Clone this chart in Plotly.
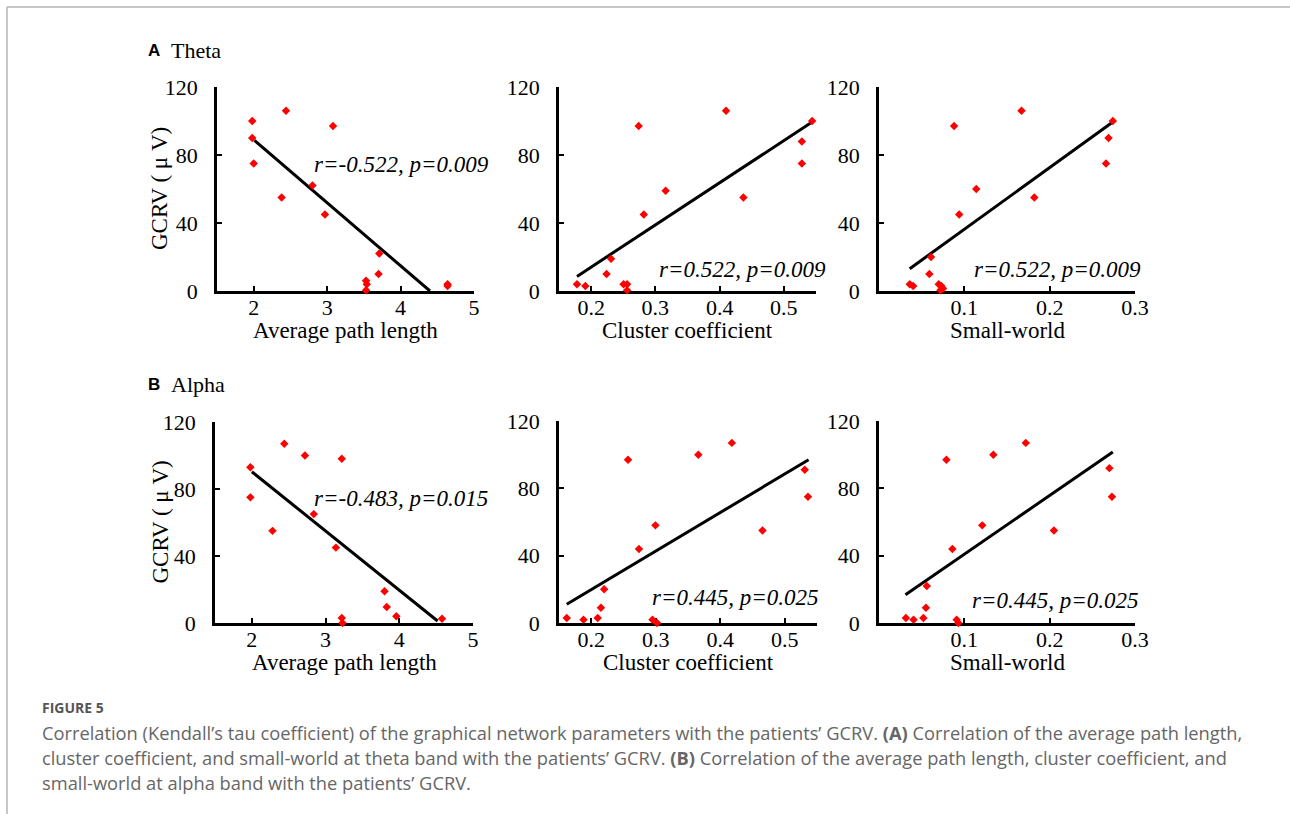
import plotly.graph_objects as go

# ---------------- data ----------------
# Theta band
theta_apl = [1.98, 1.98, 2.00, 2.44, 3.08, 2.38, 2.80, 2.97, 3.71, 3.70, 3.53, 3.54, 3.53, 4.64, 4.64]
theta_apl_gcrv = [100, 90, 75, 106, 97, 55, 62, 45, 22, 10, 6, 4, 0.5, 4, 3]
theta_apl_fit_x = [2.01, 4.40]
theta_apl_fit_y = [88.6, 0]

theta_cc = [0.178, 0.191, 0.224, 0.231, 0.2505, 0.256, 0.256, 0.274, 0.282, 0.316, 0.410, 0.437, 0.528, 0.528, 0.544]
theta_cc_gcrv = [4, 3, 10, 19, 4, 4, 0.5, 97, 45, 59, 106, 55, 88, 75, 100]
theta_cc_fit_x = [0.178, 0.544]
theta_cc_fit_y = [8.6, 99.4]

theta_sw = [0.036, 0.040, 0.061, 0.059, 0.070, 0.073, 0.075, 0.072, 0.088, 0.094, 0.114, 0.167, 0.182, 0.269, 0.266, 0.274]
theta_sw_gcrv = [4, 3, 20, 10, 4, 3, 1.5, 0.5, 97, 45, 60, 106, 55, 90, 75, 100]
theta_sw_fit_x = [0.036, 0.274]
theta_sw_fit_y = [13.1, 99.4]

# Alpha band
alpha_apl = [1.98, 1.98, 2.28, 2.44, 2.72, 3.22, 2.84, 3.14, 3.80, 3.83, 3.96, 3.22, 3.23, 4.58]
alpha_apl_gcrv = [93, 75, 55, 107, 100, 98, 65, 45, 19, 9.5, 4, 3, 0, 2.6]
alpha_apl_fit_x = [2.00, 4.52]
alpha_apl_fit_y = [90.3, 1.2]

alpha_cc = [0.162, 0.188, 0.210, 0.215, 0.220, 0.257, 0.274, 0.2995, 0.295, 0.302, 0.366, 0.418, 0.4655, 0.531, 0.536]
alpha_cc_gcrv = [3, 2, 3, 9, 20, 97, 44, 58, 2, 0, 100, 107, 55, 91, 75]
alpha_cc_fit_x = [0.162, 0.537]
alpha_cc_fit_y = [11.1, 97.0]

alpha_sw = [0.0315, 0.0405, 0.052, 0.055, 0.056, 0.079, 0.086, 0.121, 0.091, 0.093, 0.134, 0.172, 0.205, 0.270, 0.273]
alpha_sw_gcrv = [3, 2, 3, 9, 22, 97, 44, 58, 2, 0, 100, 107, 55, 92, 75]
alpha_sw_fit_x = [0.031, 0.274]
alpha_sw_fit_y = [16.8, 101.6]

stats_text = ["r=-0.522, p=0.009", "r=0.522, p=0.009", "r=0.522, p=0.009",
              "r=-0.483, p=0.015", "r=0.445, p=0.025", "r=0.445, p=0.025"]
x_titles = ["Average path length", "Cluster coefficient", "Small-world"]
y_title = "GCRV ( \u03bc V)"
row_letters = ["A", "B"]
row_names = ["Theta", "Alpha"]

y_ticks = [0, 40, 80, 120]
apl_ticks = [2, 3, 4, 5]
cc_ticks = [0.2, 0.3, 0.4, 0.5]
sw_ticks = [0.1, 0.2, 0.3]
apl_ticklabels = ["2", "3", "4", "5"]
cc_ticklabels = ["0.2", "0.3", "0.4", "0.5"]
sw_ticklabels = ["0.1", "0.2", "0.3"]

caption_head = "FIGURE 5"
caption_lines = [
    "Correlation (Kendall\u2019s tau coefficient) of the graphical network parameters with the patients\u2019 GCRV. <b>(A)</b> Correlation of the average path length,",
    "cluster coefficient, and small-world at theta band with the patients\u2019 GCRV. <b>(B)</b> Correlation of the average path length, cluster coefficient, and",
    "small-world at alpha band with the patients\u2019 GCRV.",
]

# ---------------- layout geometry (pixels) ----------------
W, H = 1290, 814
SERIF = "Liberation Serif, Times New Roman, serif"
SANS_CAP = "Open Sans, Noto Sans, sans-serif"

def px(x):
    return x / W

def py(y):
    return 1 - y / H

panels = [
    (theta_apl, theta_apl_gcrv, theta_apl_fit_x, theta_apl_fit_y, apl_ticks, apl_ticklabels, [1.5, 5], (217, 474), (87, 291), (312, 164)),
    (theta_cc, theta_cc_gcrv, theta_cc_fit_x, theta_cc_fit_y, cc_ticks, cc_ticklabels, [0.15, 0.55], (559, 816), (87, 291), (657, 269)),
    (theta_sw, theta_sw_gcrv, theta_sw_fit_x, theta_sw_fit_y, sw_ticks, sw_ticklabels, [0, 0.3], (879, 1135), (87, 291), (972, 269)),
    (alpha_apl, alpha_apl_gcrv, alpha_apl_fit_x, alpha_apl_fit_y, apl_ticks, apl_ticklabels, [1.5, 5], (215, 473), (422, 623), (312, 498)),
    (alpha_cc, alpha_cc_gcrv, alpha_cc_fit_x, alpha_cc_fit_y, cc_ticks, cc_ticklabels, [0.15, 0.55], (559, 817), (421, 623), (650, 597)),
    (alpha_sw, alpha_sw_gcrv, alpha_sw_fit_x, alpha_sw_fit_y, sw_ticks, sw_ticklabels, [0, 0.3], (879, 1135), (421, 623), (970, 600)),
]

fig = go.Figure()
layout = dict(
    width=W, height=H, autosize=False,
    margin=dict(l=0, r=0, t=0, b=0, pad=0, autoexpand=False),
    paper_bgcolor="white", plot_bgcolor="rgba(0,0,0,0)",
    showlegend=False,
)
annotations = []

axis_common = dict(
    showline=True, linecolor="black", linewidth=2.5,
    ticks="inside", ticklen=5, tickwidth=2, tickcolor="black",
    showgrid=False, zeroline=False, automargin=False,
    tickfont=dict(family=SERIF, size=22, color="black"),
    layer="below traces",
    fixedrange=True,
)

for i, (xs, ys, fx, fy, tv, tt, rng, xp, yp, sp) in enumerate(panels):
    n = i + 1
    xa = "x" if n == 1 else f"x{n}"
    ya = "y" if n == 1 else f"y{n}"
    xkey = "xaxis" if n == 1 else f"xaxis{n}"
    ykey = "yaxis" if n == 1 else f"yaxis{n}"

    fig.add_trace(go.Scatter(
        x=fx, y=fy, mode="lines", xaxis=xa, yaxis=ya,
        line=dict(color="black", width=3), cliponaxis=False, hoverinfo="skip",
    ))
    fig.add_trace(go.Scatter(
        x=xs, y=ys, mode="markers", xaxis=xa, yaxis=ya,
        marker=dict(symbol="diamond", size=6.5, color="#ff0000", line=dict(width=0)),
        cliponaxis=False,
    ))

    layout[xkey] = dict(axis_common, domain=[px(xp[0]), px(xp[1])], range=rng,
                        tickvals=tv, ticktext=tt, anchor=ya, ticklabelstandoff=-5)
    layout[ykey] = dict(axis_common, domain=[py(yp[1]), py(yp[0])], range=[0, 120],
                        tickvals=y_ticks, anchor=xa, ticklabelstandoff=12)

    annotations.append(dict(
        text="<i>" + stats_text[i] + "</i>", xref="paper", yref="paper",
        x=px(sp[0]), y=py(sp[1]), xanchor="left", yanchor="middle", showarrow=False,
        font=dict(family=SERIF, size=23, color="black"),
    ))
    annotations.append(dict(
        text=x_titles[i % 3], xref="paper", yref="paper",
        x=px((xp[0] + xp[1]) / 2), y=py(yp[1] + 39), xanchor="center", yanchor="middle",
        showarrow=False, font=dict(family=SERIF, size=23, color="black"),
    ))
    if i % 3 == 0:
        annotations.append(dict(
            text=y_title, xref="paper", yref="paper", textangle=-90,
            x=px(160), y=py((yp[0] + yp[1]) / 2), xanchor="center", yanchor="middle",
            showarrow=False, font=dict(family=SERIF, size=23, color="black"),
        ))

for r, yy in enumerate([50, 384]):
    annotations.append(dict(
        text="<b>" + row_letters[r] + "</b>", xref="paper", yref="paper",
        x=px(146), y=py(yy), xanchor="left", yanchor="middle", showarrow=False,
        font=dict(family="Liberation Sans, Arial, sans-serif", size=17, color="black"),
    ))
    annotations.append(dict(
        text=row_names[r], xref="paper", yref="paper",
        x=px(169), y=py(yy), xanchor="left", yanchor="middle", showarrow=False,
        font=dict(family=SERIF, size=22, color="black"),
    ))

annotations.append(dict(
    text="<b>" + caption_head + "</b>", xref="paper", yref="paper",
    x=px(40), y=py(707), xanchor="left", yanchor="middle", showarrow=False,
    font=dict(family=SANS_CAP, size=14, color="#555555"),
))
for k, line in enumerate(caption_lines):
    annotations.append(dict(
        text=line, xref="paper", yref="paper",
        x=px(40), y=py(732 + 25 * k), xanchor="left", yanchor="middle", showarrow=False,
        font=dict(family=SANS_CAP, size=18.3, color="#666666"),
    ))

layout["annotations"] = annotations
layout["shapes"] = [
    dict(type="line", xref="paper", yref="paper", x0=px(7), x1=1, y0=py(7), y1=py(7),
         line=dict(color="#b5b5b5", width=1.5)),
    dict(type="line", xref="paper", yref="paper", x0=px(7), x1=px(7), y0=py(7), y1=0,
         line=dict(color="#b5b5b5", width=1.5)),
]

fig.update_layout(**layout)
fig.write_html(
    "out.html",
    config={"displayModeBar": False},
    post_script="document.body.style.margin='0';document.body.style.overflow='hidden';",
)
